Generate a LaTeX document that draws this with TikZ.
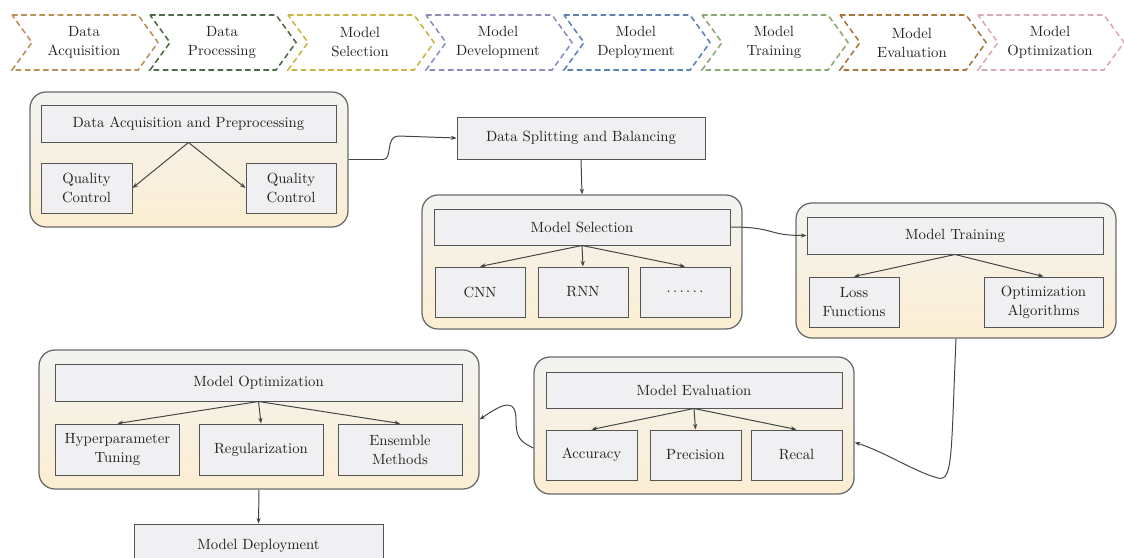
\documentclass[tikz,border=0pt]{standalone}
\usetikzlibrary{arrows.meta}

\definecolor{boxfill}{HTML}{F0F0F2}
\definecolor{boxline}{HTML}{555555}
\definecolor{grptop}{HTML}{F3F3F1}
\definecolor{grpbot}{HTML}{FBEED2}
\definecolor{grpline}{HTML}{6A6A6A}
\definecolor{txt}{HTML}{222222}
% stage colours of the top strip
\definecolor{stAcq}{HTML}{B8925A}
\definecolor{stPro}{HTML}{4D6B45}
\definecolor{stSel}{HTML}{C9B440}
\definecolor{stDev}{HTML}{8C8CC0}
\definecolor{stDep}{HTML}{5A82B4}
\definecolor{stTra}{HTML}{8AA870}
\definecolor{stEva}{HTML}{A8763A}
\definecolor{stOpt}{HTML}{DCAAB4}

\tikzset{
  sz/.style 2 args={minimum width=#1*0.025cm, minimum height=#2*0.025cm},
  box/.style={draw=boxline, fill=boxfill, line width=0.7pt, inner sep=0pt, align=center, text=txt},
  grp/.style={draw=grpline, line width=0.9pt, rounded corners=0.4cm, top color=grptop, bottom color=grpbot, inner sep=0pt},
  link/.style={draw=boxline!80!black, line width=0.7pt, -{Stealth[length=4pt,width=3pt]}},
  stage/.style={dash pattern=on 4pt off 2.5pt, line width=1.1pt},
}

\begin{document}
\begin{tikzpicture}[x=0.025cm, y=-0.025cm, font=\fontsize{10.5}{13.5}\selectfont]
  \useasboundingbox (0,0) rectangle (1124,558);
  \clip (0,0) rectangle (1124,558);

  % ---- Stage strip ----
  \foreach \k/\col/\tA/\tB in {0/stAcq/Data/Acquisition, 1/stPro/Data/Processing,
      2/stSel/Model/Selection, 3/stDev/Model/Development, 4/stDep/Model/Deployment,
      5/stTra/Model/Training, 6/stEva/Model/Evaluation, 7/stOpt/Model/Optimization} {
    \draw[stage, draw=\col] ({12+138*\k},15) -- ++(126,0) -- ++(20,27.5) -- ++(-20,27.5)
      -- ++(-126,0) -- ++(20,-27.5) -- cycle;
    \node[text=txt, align=center] (stage\k) at ({84+138*\k},42.5) {\tA\\\tB};
  }

  % ---- Data acquisition ----
  \node[grp, sz={318}{135}] (grpAcq) at (189,159.5) {};
  \node[box, sz={295}{37}] (acq) at (188.5,123.5) {Data Acquisition and Preprocessing};
  \node[box, sz={91}{50}] (qcL) at (86.5,188) {Quality\\Control};
  \node[box, sz={90}{50}] (qcR) at (291,188) {Quality\\Control};
  \draw[link] (acq.south) -- (qcL.east);
  \draw[link] (acq.south) -- (qcR.west);

  % ---- Splitting ----
  \node[box, sz={248}{42}] (split) at (581,138) {Data Splitting and Balancing};
  \draw[link] (grpAcq.east) -- (383,159.5) .. controls (393,159.5) and (385,137) .. (398,136) -- (split.west);

  % ---- Model selection ----
  \node[grp, sz={320}{134}] (grpSel) at (582,262) {};
  \node[box, sz={296}{36}] (sel) at (582,227) {Model Selection};
  \foreach \nm/\x/\t in {cnn/480/CNN, rnn/583/RNN, more/685/{.\,.\,.\,.\,.\,.}} {
    \node[box, sz={90}{50}] (\nm) at (\x,292) {\t};
    \draw[link] (sel.south) -- (\nm.north);
  }
  \draw[link] (split.south) -- (grpSel.north);

  % ---- Model training ----
  \node[grp, sz={320}{135}] (grpTrain) at (956,270.5) {};
  \node[box, sz={296}{37}] (train) at (955,235.5) {Model Training};
  \node[box, sz={90}{50}] (loss) at (854,302) {Loss\\Functions};
  \node[box, sz={119}{50}] (optim) at (1043.5,302) {Optimization\\Algorithms};
  \draw[link] (train.south) -- (loss.north);
  \draw[link] (train.south) -- (optim.north);
  \draw[link] (sel.east) .. controls +(45,0) and +(-40,0) .. (train.west);

  % ---- Model evaluation ----
  \node[grp, sz={320}{137}] (grpEval) at (694,425.5) {};
  \node[box, sz={296}{36}] (eval) at (694,390) {Model Evaluation};
  \foreach \nm/\x/\t in {acc/591.5/Accuracy, prec/695.5/Precision, recal/796.5/Recal} {
    \node[box, sz={91}{50}] (\nm) at (\x,455) {\t};
    \draw[link] (eval.south) -- (\nm.north);
  }
  \draw[link] (grpTrain.south) .. controls (951,455) and (953,482) .. (938,478)
    .. controls (915,472) and (885,452) .. (grpEval.-6.4);

  % ---- Model optimization ----
  \node[grp, sz={440}{139}] (grpOpt) at (259,419.5) {};
  \node[box, sz={407}{37}] (opt) at (258.5,382.5) {Model Optimization};
  \foreach \nm/\x/\t in {hyper/117.5/{Hyperparameter\\Tuning}, regul/261/Regularization, ensem/400/{Ensemble\\Methods}} {
    \node[box, sz={124}{51}] (\nm) at (\x,449.5) {\t};
    \draw[link] (opt.south) -- (\nm.north);
  }
  \draw[link] (grpEval.188) .. controls (522,442) and (516,440) .. (516,420)
    .. controls (516,400) and (506,401) .. (grpOpt.east);

  % ---- Deployment ----
  \node[box, sz={249}{44}] (deploy) at (258.5,546) {Model Deployment};
  \draw[link] (grpOpt.south) -- (deploy.north);
\end{tikzpicture}
\end{document}
